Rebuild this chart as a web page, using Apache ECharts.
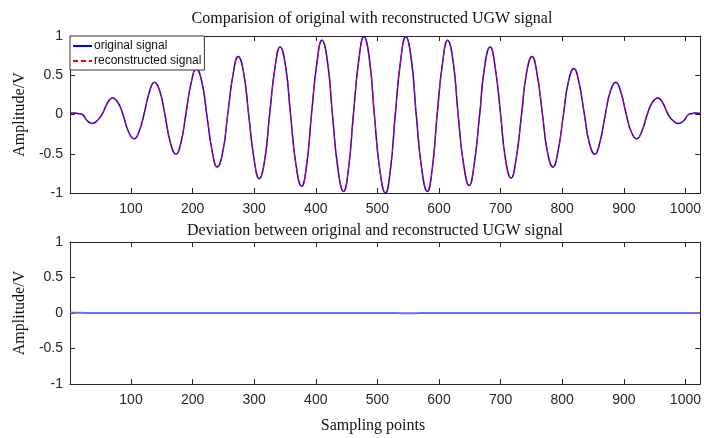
<!DOCTYPE html>
<html>
<head>
<meta charset="utf-8">
<script src="https://cdn.jsdelivr.net/npm/echarts@6/dist/echarts.min.js"></script>
<style>
  html, body { margin: 0; padding: 0; background: #fff; }
  #chart { width: 704px; height: 438px; }
</style>
</head>
<body>
<div id="chart"></div>
<script>
// Tone-burst UGW signal: sample index and amplitude at zero crossings,
// crests / troughs and the points half-way between them.
const sampleIdx = [
  1, 8, 14, 21, 29, 37, 45, 53, 62, 70, 79, 87, 96, 105, 113, 121,
  130, 138, 147, 155, 164, 173, 181, 189, 198, 206, 215, 223, 232, 240, 249, 257,
  266, 274, 283, 291, 300, 308, 317, 325, 334, 342, 351, 359, 368, 377, 385, 393,
  402, 410, 419, 427, 436, 445, 453, 461, 470, 478, 487, 495, 504, 513, 521, 529,
  538, 546, 555, 563, 572, 581, 589, 597, 606, 614, 623, 631, 640, 649, 657, 666,
  674, 683, 691, 700, 708, 717, 725, 734, 742, 751, 759, 768, 776, 785, 793, 802,
  810, 819, 827, 836, 844, 853, 861, 870, 878, 887, 895, 904, 912, 921, 929, 938,
  946, 955, 963, 972, 980, 989, 997, 1005, 1011, 1017, 1024
];
const originalAmp = [
  0.015, 0.02, 0.012, 0, -0.08, -0.115, -0.08, 0, 0.15, 0.21, 0.15, 0, -0.22, -0.31, -0.22, 0,
  0.29, 0.41, 0.29, 0, -0.36, -0.507, -0.36, 0, 0.415, 0.585, 0.415, 0, -0.475, -0.67, -0.475, 0,
  0.525, 0.74, 0.525, 0, -0.58, -0.817, -0.58, 0, 0.61, 0.86, 0.61, 0, -0.65, -0.915, -0.65, 0,
  0.67, 0.945, 0.67, 0, -0.695, -0.98, -0.695, 0, 0.705, 0.99, 0.705, 0, -0.71, -1.0, -0.71, 0,
  0.705, 0.99, 0.705, 0, -0.695, -0.98, -0.695, 0, 0.67, 0.945, 0.67, 0, -0.64, -0.905, -0.64, 0,
  0.61, 0.86, 0.61, 0, -0.575, -0.81, -0.575, 0, 0.525, 0.74, 0.525, 0, -0.475, -0.67, -0.475, 0,
  0.415, 0.585, 0.415, 0, -0.36, -0.507, -0.36, 0, 0.29, 0.41, 0.29, 0, -0.22, -0.31, -0.22, 0,
  0.15, 0.21, 0.15, 0, -0.08, -0.115, -0.08, 0, 0.012, 0.02, 0.012
];
const reconstructedAmp = [
  0.015, 0.02, 0.012, 0, -0.08, -0.115, -0.08, 0, 0.15, 0.21, 0.15, 0, -0.22, -0.31, -0.22, 0,
  0.29, 0.41, 0.29, 0, -0.36, -0.507, -0.36, 0, 0.415, 0.585, 0.415, 0, -0.475, -0.67, -0.475, 0,
  0.525, 0.74, 0.525, 0, -0.58, -0.817, -0.58, 0, 0.61, 0.86, 0.61, 0, -0.65, -0.915, -0.65, 0,
  0.67, 0.945, 0.67, 0, -0.695, -0.98, -0.695, 0, 0.705, 0.99, 0.705, 0, -0.71, -1.0, -0.71, 0,
  0.705, 0.99, 0.705, 0, -0.695, -0.98, -0.695, 0, 0.67, 0.945, 0.67, 0, -0.64, -0.905, -0.64, 0,
  0.61, 0.86, 0.61, 0, -0.575, -0.81, -0.575, 0, 0.525, 0.74, 0.525, 0, -0.475, -0.67, -0.475, 0,
  0.415, 0.585, 0.415, 0, -0.36, -0.507, -0.36, 0, 0.29, 0.41, 0.29, 0, -0.22, -0.31, -0.22, 0,
  0.15, 0.21, 0.15, 0, -0.08, -0.115, -0.08, 0, 0.012, 0.02, 0.012
];

// Deviation (original - reconstructed)
const devIdx = [1, 12, 30, 300, 530, 550, 570, 800, 1016, 1024];
const devAmp = [0.012, 0.002, 0, 0, 0, -0.004, 0, 0, 0, 0.003];

const xTicks = [100, 200, 300, 400, 500, 600, 700, 800, 900, 1000];
const yTicks = [-1, -0.5, 0, 0.5, 1];

const pairs = (xs, ys) => xs.map((x, i) => [x, ys[i]]);

const AXIS_COLOR = '#262626';
const SANS = 'Liberation Sans, Arial, sans-serif';
const SERIF = 'Liberation Serif, Times New Roman, serif';

function xAxisDef(grid, pos, labels) {
  return {
    type: 'value', gridIndex: grid, position: pos, min: 1, max: 1024,
    axisLine: { show: true, onZero: false, lineStyle: { color: AXIS_COLOR, width: 1 } },
    axisTick: { show: true, inside: true, length: 5, customValues: xTicks,
                lineStyle: { color: AXIS_COLOR } },
    axisLabel: { show: labels, customValues: xTicks, margin: 9,
                 formatter: v => String(v),
                 color: '#262626', fontFamily: SANS, fontSize: 14 },
    splitLine: { show: false }
  };
}
function yAxisDef(grid, pos, labels) {
  return {
    type: 'value', gridIndex: grid, position: pos, min: -1, max: 1, interval: 0.5,
    axisLine: { show: true, onZero: false, lineStyle: { color: AXIS_COLOR, width: 1 } },
    axisTick: { show: true, inside: true, length: 5, customValues: yTicks,
                lineStyle: { color: AXIS_COLOR } },
    axisLabel: { show: labels, customValues: yTicks, margin: 7,
                 formatter: v => String(v),
                 color: '#262626', fontFamily: SANS, fontSize: 14 },
    splitLine: { show: false },
    name: labels ? 'Amplitude/V' : '',
    nameLocation: 'middle', nameRotate: 90, nameGap: 41,
    nameTextStyle: { fontFamily: SERIF, fontSize: 16, color: '#111' }
  };
}

const chart = echarts.init(document.getElementById('chart'), null, { renderer: 'canvas' });
chart.setOption({
  animation: false,
  backgroundColor: '#fff',
  title: [
    { text: 'Comparision of original with reconstructed UGW signal',
      left: 367, top: 6, textAlign: 'center',
      textStyle: { fontFamily: SERIF, fontSize: 16, fontWeight: 'normal', color: '#111' } },
    { text: 'Deviation between original and reconstructed UGW signal',
      left: 370, top: 218, textAlign: 'center',
      textStyle: { fontFamily: SERIF, fontSize: 16, fontWeight: 'normal', color: '#111' } },
    { text: 'Sampling points',
      left: 368, top: 413, textAlign: 'center',
      textStyle: { fontFamily: SERIF, fontSize: 16, fontWeight: 'normal', color: '#111' } }
  ],
  legend: {
    orient: 'vertical', left: 70, top: 36,
    itemWidth: 19, itemHeight: 8, itemGap: 3,
    padding: [4, 3, 3, 2],
    backgroundColor: '#fff', borderColor: '#333', borderWidth: 1,
    itemStyle: { opacity: 0 },
    textStyle: { fontFamily: SANS, fontSize: 12, color: '#111', padding: [0, 0, 0, -3] },
    data: ['original signal', 'reconstructed signal']
  },
  grid: [
    { left: 70, top: 36, width: 633, height: 157 },
    { left: 70, top: 242, width: 633, height: 142 }
  ],
  xAxis: [
    xAxisDef(0, 'bottom', true), xAxisDef(0, 'top', false),
    xAxisDef(1, 'bottom', true), xAxisDef(1, 'top', false)
  ],
  yAxis: [
    yAxisDef(0, 'left', true), yAxisDef(0, 'right', false),
    yAxisDef(1, 'left', true), yAxisDef(1, 'right', false)
  ],
  series: [
    { name: 'original signal', type: 'line', xAxisIndex: 0, yAxisIndex: 0,
      data: pairs(sampleIdx, originalAmp), smooth: 0.5, symbol: 'none',
      lineStyle: { color: '#0000ff', width: 1.5 }, itemStyle: { color: '#0000ff' } },
    { name: 'reconstructed signal', type: 'line', xAxisIndex: 0, yAxisIndex: 0,
      data: pairs(sampleIdx, reconstructedAmp), smooth: 0.5, symbol: 'none',
      lineStyle: { color: '#ff0000', width: 1, type: [5, 3] }, itemStyle: { color: '#ff0000' } },
    { name: 'deviation', type: 'line', xAxisIndex: 2, yAxisIndex: 2,
      data: pairs(devIdx, devAmp), smooth: 0.5, symbol: 'none',
      lineStyle: { color: '#6b6bff', width: 2 }, itemStyle: { color: '#6b6bff' } }
  ]
});
</script>
</body>
</html>
